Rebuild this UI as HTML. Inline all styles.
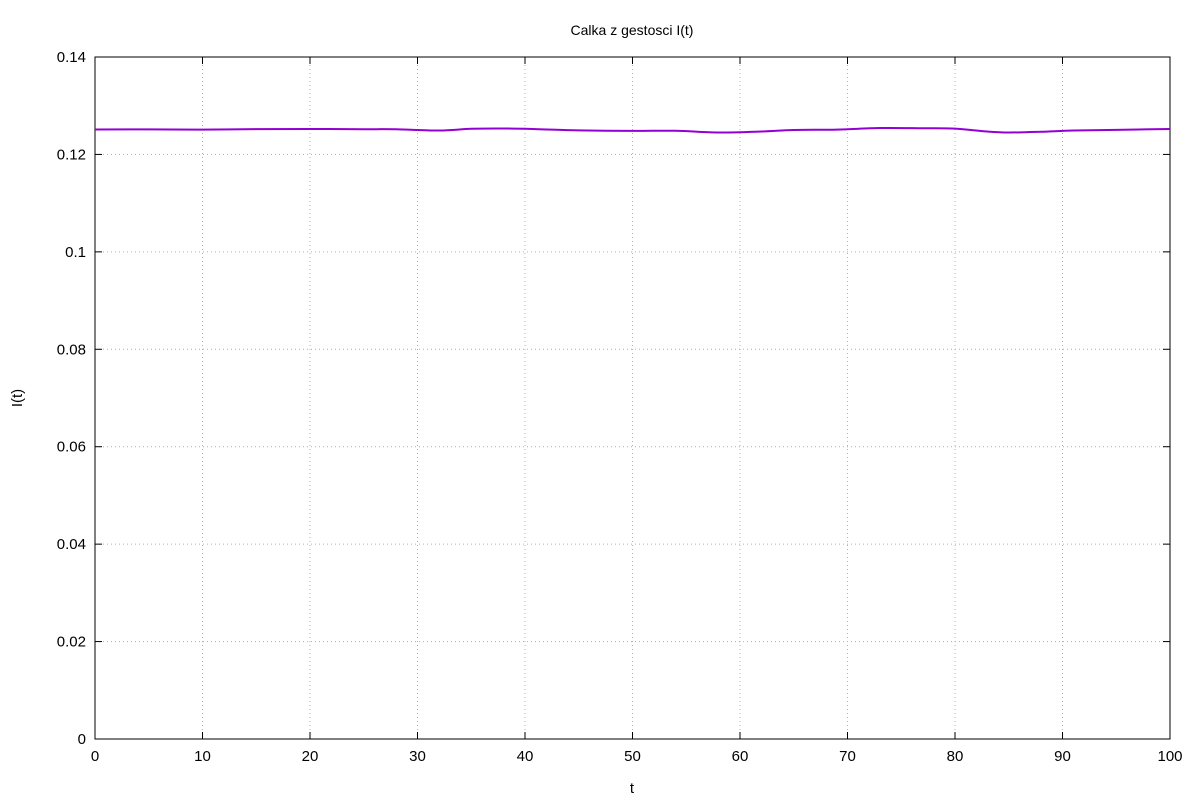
<!DOCTYPE html>
<html><head><meta charset="utf-8"><style>
body{margin:0;background:#fff;}
svg text{font-family:"Liberation Sans",sans-serif;fill:#000;}
</style></head><body>
<svg id="chart" width="1200" height="800"></svg>
<script>
const xTicks=[0,10,20,30,40,50,60,70,80,90,100];
const yTicks=[0,0.02,0.04,0.06,0.08,0.1,0.12,0.14];
const yTickLabels=["0","0.02","0.04","0.06","0.08","0.1","0.12","0.14"];
const tValues=[0,5,10,15,20,25,28,32,35,38,41,45,50,54,58,62,65,69,73,77,80,83,85,88,91,95,100];
const iValues=[0.12512,0.12514,0.12510,0.12520,0.12522,0.12518,0.12516,0.12491,0.12526,0.12532,0.12520,0.12495,0.12483,0.12485,0.12450,0.12470,0.12501,0.12510,0.12542,0.12538,0.12530,0.12470,0.12450,0.12465,0.12490,0.12505,0.12522];
const L=95,R=1170,T=57,B=739;
const sx=v=>L+(v-0)/(100-0)*(R-L);
const sy=v=>B-(v-0)/(0.14-0)*(B-T);
const NS="http://www.w3.org/2000/svg";
const svg=document.getElementById('chart');
function mk(tag,attrs,txt){const e=document.createElementNS(NS,tag);for(const k in attrs)e.setAttribute(k,attrs[k]);if(txt!==undefined)e.textContent=txt;svg.appendChild(e);return e;}
xTicks.forEach((t,i)=>{
  const x=sx(t);
  if(i>0&&i<xTicks.length-1){const g=mk('line',{x1:x,x2:x,y1:T,y2:B,stroke:'#b0b0b0','stroke-dasharray':'1,3','stroke-width':1});
  
  }
  mk('line',{x1:x,x2:x,y1:B,y2:B-7,stroke:'#000'});
  mk('line',{x1:x,x2:x,y1:T,y2:T+7,stroke:'#000'});
  const tx=mk('text',{x:x,y:B+22,'text-anchor':'middle','font-size':15},String(t));
  
  
});
yTicks.forEach((v,i)=>{
  const y=sy(v);
  if(i>0&&i<yTicks.length-1){const g=mk('line',{x1:L,x2:R,y1:y,y2:y,stroke:'#b0b0b0','stroke-dasharray':'1,3','stroke-width':1});
  
  }
  mk('line',{x1:L,x2:L+7,y1:y,y2:y,stroke:'#000'});
  mk('line',{x1:R,x2:R-7,y1:y,y2:y,stroke:'#000'});
  const tx=mk('text',{x:L-9,y:y+5,'text-anchor':'end','font-size':15},yTickLabels[i]);
  
  
});
const frame=mk('rect',{x:L,y:T,width:R-L,height:B-T,fill:'none',stroke:'#000','stroke-width':1});


// smooth path (Catmull-Rom)
const pts=tValues.map((t,i)=>[sx(t),sy(iValues[i])]);
let d='M'+pts[0][0]+','+pts[0][1];
for(let i=0;i<pts.length-1;i++){
  const p0=pts[Math.max(0,i-1)],p1=pts[i],p2=pts[i+1],p3=pts[Math.min(pts.length-1,i+2)];
  const c1=[p1[0]+(p2[0]-p0[0])/6,p1[1]+(p2[1]-p0[1])/6];
  const c2=[p2[0]-(p3[0]-p1[0])/6,p2[1]-(p3[1]-p1[1])/6];
  d+=' C'+c1.join(',')+' '+c2.join(',')+' '+p2.join(',');
}
const line=mk('path',{d:d,fill:'none',stroke:'#9400d3','stroke-width':2});


const title=mk('text',{x:632,y:35,'text-anchor':'middle','font-size':14},'Calka z gestosci I(t)');


const xt=mk('text',{x:632,y:793,'text-anchor':'middle','font-size':15},'t');


const yt=mk('text',{x:22,y:398,'text-anchor':'middle','font-size':15,transform:'rotate(-90 22 398)'},'I(t)');


</script>
</body></html>
